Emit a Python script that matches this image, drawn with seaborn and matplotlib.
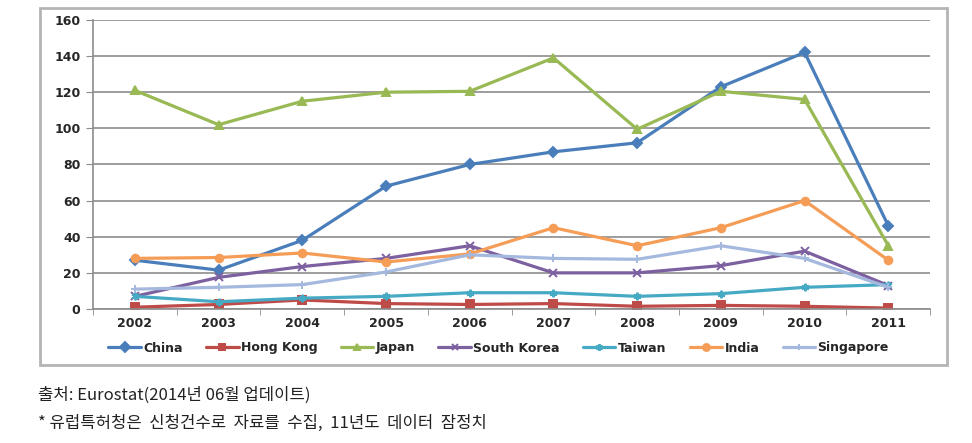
import numpy as np
import pandas as pd
import matplotlib.pyplot as plt
import seaborn as sns
from matplotlib.patches import Rectangle

years = ['2002', '2003', '2004', '2005', '2006', '2007', '2008', '2009', '2010', '2011']
countries = ['China', 'Hong Kong', 'Japan', 'South Korea', 'Taiwan', 'India', 'Singapore']

china = [27, 21.5, 38, 68, 80, 87, 92, 123, 142, 46]
hong_kong = [1, 2.5, 5, 3, 2.5, 3, 1.5, 2, 1.5, 0.5]
japan = [121, 102, 115, 120, 120.5, 139, 99.5, 120.5, 116, 35]
south_korea = [7, 17.5, 23.5, 28, 35, 20, 20, 24, 32, 13]
taiwan = [7, 4, 6, 7, 9, 9, 7, 8.5, 12, 13.5]
india = [28, 28.5, 31, 26, 30.5, 45, 35, 45, 60, 27]
singapore = [11, 12, 13.5, 20.5, 30, 28, 27.5, 35, 28, 12]

series = [china, hong_kong, japan, south_korea, taiwan, india, singapore]
colors = ['#4A7EBB', '#BE4B48', '#98B954', '#7D60A0', '#46AAC5', '#F59D56', '#A5B8DE']
marks = ['D', 's', '^', 'x', (6, 2, 0), 'o', '+']

sns.set_style('white')
plt.rcParams['font.family'] = ['DejaVu Sans']

fig = plt.figure(figsize=(9.72, 4.43), dpi=100)
ax = fig.add_axes([0.0957, 0.3025, 0.8613, 0.6525])

# outer chart frame
fig.patches.append(Rectangle((40 / 972, 1 - 365 / 443), 907 / 972, 357 / 443,
                             transform=fig.transFigure, fill=False,
                             edgecolor='#b4b4b4', linewidth=2))

# one call per country (filled and line markers can't mix in one call)
for name, vals, c, m in zip(countries, series, colors, marks):
    d = pd.DataFrame({'pos': range(len(years)), 'value': vals})
    sns.lineplot(data=d, x='pos', y='value', color=c, marker=m,
                 linewidth=2.3, markersize=5.5, markeredgewidth=1.4,
                 markeredgecolor=c, ax=ax)

ax.set_xlim(-0.5, 9.5)
ax.set_ylim(0, 160)
ax.set_yticks(np.arange(0, 161, 20))
ax.set_xticks(range(10))
ax.set_xticklabels(years, fontweight='bold', fontsize=9)
ax.set_yticklabels([str(v) for v in range(0, 161, 20)], fontweight='bold', fontsize=9)
ax.set_xticks(np.arange(-0.5, 9.6, 1), minor=True)
ax.tick_params(axis='x', which='major', length=0, pad=6)
ax.tick_params(axis='x', which='minor', length=4, color='#8c8c8c', direction='out', bottom=True)
ax.tick_params(axis='y', length=5, color='#8c8c8c', direction='out', left=True, pad=4)
ax.grid(axis='y', color='#8c8c8c', linewidth=1.2)
ax.set_axisbelow(True)
ax.set_xlabel('')
ax.set_ylabel('')
for s in ['top', 'right']:
    ax.spines[s].set_visible(False)
for s in ['left', 'bottom']:
    ax.spines[s].set_color('#8c8c8c')
    ax.spines[s].set_linewidth(1.2)

handles = []
for name, c, m in zip(countries, colors, marks):
    h, = ax.plot([], [], color=c, marker=m, linewidth=2.3, markersize=5, markeredgewidth=1.4)
    handles.append(h)
fig.legend(handles, countries, loc='center', bbox_to_anchor=(0.513, 1 - 348 / 443),
           ncol=7, frameon=False, prop={'weight': 'bold', 'size': 9},
           handlelength=2.6, handletextpad=0.2, columnspacing=1.85)

kfont = ['Noto Sans CJK KR', 'DejaVu Sans']
fig.text(38 / 972, 1 - 395 / 443, '출처: Eurostat(2014년 06월 업데이트)',
         family=kfont, fontsize=12, va='center', ha='left', color='#222222')
fig.text(38 / 972, 1 - 423 / 443, '* 유럽특허청은  신청건수로  자료를  수집,  11년도  데이터  잠정치',
         family=kfont, fontsize=12, va='center', ha='left', color='#222222')

fig.savefig('out.png', dpi=100)
